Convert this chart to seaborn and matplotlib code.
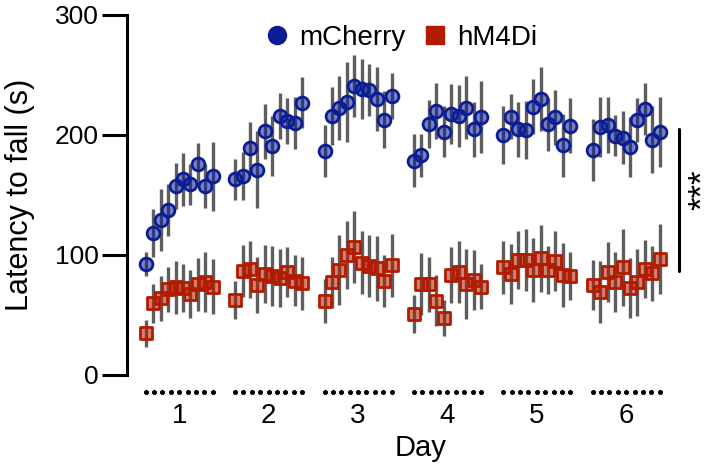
import numpy as np
import pandas as pd
import matplotlib
matplotlib.use("Agg")
import matplotlib.pyplot as plt
from matplotlib.lines import Line2D
import seaborn as sns

# ---------------- data ----------------
days = [1, 2, 3, 4, 5, 6]
trials_per_day = 10
day_labels = ["1", "2", "3", "4", "5", "6"]
groups = ["mCherry", "hM4Di"]

mcherry_mean = [
    92.5, 118, 129, 137.5, 157.5, 163, 159, 176, 157.5, 165.5,
    163, 166, 189, 171, 203, 191, 216, 211.5, 210, 227,
    186.7, 216, 222.5, 227.5, 241, 238, 237.5, 230, 212.8, 232.5,
    178.6, 183, 209.4, 220, 202.8, 217.5, 215.8, 222.8, 204.7, 214.7,
    200, 215.3, 204.7, 204.2, 223.6, 230, 209, 214.7, 191.4, 207.8,
    187.5, 206.4, 208.3, 199.4, 197.8, 189.7, 212.5, 221.7, 196.1, 202.5,
]
mcherry_sem = [
    10, 20, 26, 22, 19, 22, 17, 17, 18, 29,
    17, 20, 22, 32, 23, 25, 19, 19, 22, 21,
    22, 24, 27, 33, 26, 25, 22, 27, 24, 19,
    22, 18, 20, 23, 21, 25, 26, 26, 23, 30,
    24, 19, 23, 24, 23, 27, 22, 23, 26, 23,
    26, 25, 23, 17, 22, 25, 18, 22, 28, 29,
]
hm4di_mean = [
    34.7, 59.7, 63.9, 71.4, 73, 72.2, 67.5, 75.6, 77.2, 73.6,
    62.5, 86.7, 88, 75, 84, 82.5, 81, 86, 78.6, 76.4,
    61.7, 77.2, 87.5, 100, 106.4, 93.6, 90.8, 88.9, 78.3, 91.4,
    50.6, 75.6, 75.6, 62, 47.8, 83.3, 86, 75.8, 79.2, 73.6,
    89.7, 84.2, 95.8, 95.8, 87.5, 97.2, 87.5, 95.2, 83.3, 82.8,
    75, 69, 85.6, 77.2, 89.7, 72.2, 77.2, 88.3, 84.7, 96.7,
]
hm4di_sem = [
    11, 16, 19, 19, 22, 20, 20, 22, 25, 23,
    16, 22, 24, 23, 24, 25, 24, 21, 21, 22,
    18, 21, 29, 28, 30, 26, 26, 27, 22, 26,
    16, 26, 23, 21, 15, 23, 26, 29, 25, 19,
    22, 25, 24, 26, 27, 28, 20, 25, 27, 20,
    21, 26, 25, 25, 32, 25, 28, 24, 23, 29,
]
y_ticks = [0, 100, 200, 300]
sig_range = [87, 205]
sig_text = "***"

# ---------------- layout helpers ----------------
slot = 12  # positions per day block (10 trials + gap)
day_col = np.repeat(days, trials_per_day)
trial_col = np.tile(np.arange(trials_per_day), len(days))
pos = (day_col - 1) * slot + trial_col

df = pd.concat([
    pd.DataFrame({"pos": pos, "day": day_col, "mean": mcherry_mean,
                  "sem": mcherry_sem, "group": "mCherry"}),
    pd.DataFrame({"pos": pos, "day": day_col, "mean": hm4di_mean,
                  "sem": hm4di_sem, "group": "hM4Di"}),
], ignore_index=True)

edge = {"mCherry": "#0B1D95", "hM4Di": "#B31B00"}
markers = {"mCherry": "o", "hM4Di": "s"}
face_alpha = 0.55
err_col = "#5e5e5e"

sns.set_theme(style="white")
plt.rcParams["font.family"] = ["Liberation Sans", "DejaVu Sans"]
for k in ["text.color", "axes.labelcolor", "xtick.color", "ytick.color"]:
    plt.rcParams[k] = "black"

fig = plt.figure(figsize=(7.25, 4.66), dpi=100)
W, H = 725, 466
left_px, right_px, top_px, bot_px = 126.7, 715, 15, 375
ax = fig.add_axes([left_px / W, 1 - bot_px / H,
                   (right_px - left_px) / W, (bot_px - top_px) / H])

px_per_unit = 7.45
x0_px = 145.7
ax.set_xlim((left_px - x0_px) / px_per_unit, (right_px - x0_px) / px_per_unit)
ax.set_ylim(0, 300)

# error bars
for g in groups:
    d = df[df.group == g]
    ax.errorbar(d["pos"], d["mean"], yerr=d["sem"], fmt="none",
                ecolor=err_col, elinewidth=2.4, capsize=0, zorder=2,
                clip_on=False)

# markers
for g in groups:
    d = df[df.group == g]
    sns.scatterplot(data=d, x="pos", y="mean", marker=markers[g],
                    color=edge[g], edgecolor=edge[g], linewidth=2.0,
                    s=85, ax=ax, zorder=3, legend=False, clip_on=False)
    coll = ax.collections[-1]
    rgba = matplotlib.colors.to_rgba(edge[g], face_alpha)
    coll.set_facecolor(rgba)
    coll.set_edgecolor(edge[g])

# axes styling
sns.despine(ax=ax, bottom=True, right=True, top=True)
ax.spines["left"].set_linewidth(2.2)
ax.spines["left"].set_color("black")
ax.set_yticks(y_ticks)
ax.tick_params(axis="y", length=18, width=2.2, color="black",
               labelcolor="black", labelsize=19, pad=2, left=True)

centers = [(d - 1) * slot + (trials_per_day - 1) / 2 for d in days]
ax.set_xticks(centers)
ax.set_xticklabels(day_labels)
ax.tick_params(axis="x", length=0, labelsize=20, pad=20, labelcolor="black")

ax.set_xlabel("Day", fontsize=21, labelpad=4, color="black")
ax.set_ylabel("Latency to fall (s)", fontsize=22, labelpad=14, color="black")

# dotted underlines per day
for d in days:
    xs = np.linspace((d - 1) * slot, (d - 1) * slot + trials_per_day - 1, 9)
    ax.plot(xs, np.full_like(xs, -14.2), linestyle="none", marker="o",
            ms=2.6, color="black", clip_on=False)

# significance bar
x_sig = (679.3 - x0_px) / px_per_unit
ax.plot([x_sig, x_sig], sig_range, color="black", lw=2.2, clip_on=False)
ax.text((703 - x0_px) / px_per_unit, np.mean(sig_range) + 8, sig_text,
        rotation=90, ha="center", va="center", fontsize=25,
        color="black", clip_on=False)

# legend
handles = [Line2D([], [], marker=markers[g], linestyle="none",
                  markerfacecolor=edge[g], markeredgecolor=edge[g],
                  markersize=13, label=g) for g in groups]
fig.legend(handles=handles, loc="center", ncol=2, frameon=False,
           bbox_to_anchor=(400 / W, 1 - 38 / H), fontsize=20,
           handletextpad=0.3, columnspacing=0.55, handlelength=1.0,
           borderaxespad=0, labelcolor="black")

fig.savefig("out.png", dpi=100)
